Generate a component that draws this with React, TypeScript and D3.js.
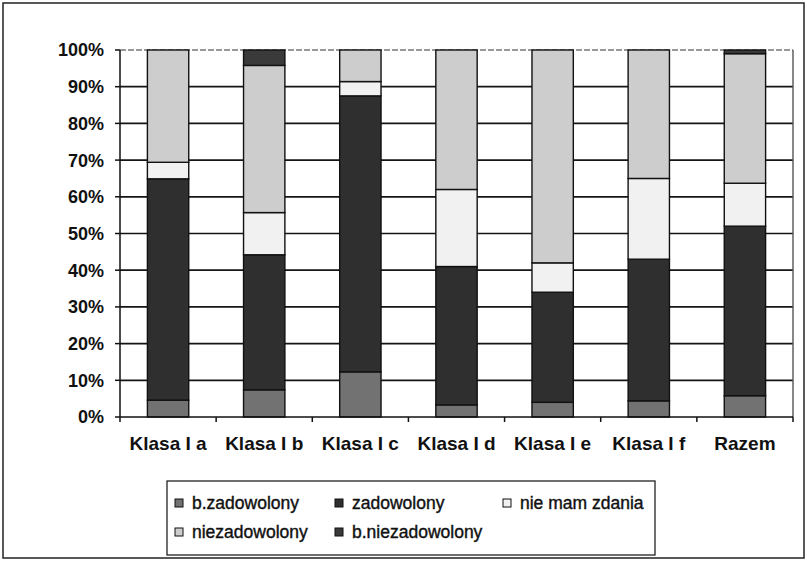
import * as d3 from 'd3';

const categories = ['Klasa I a', 'Klasa I b', 'Klasa I c', 'Klasa I d', 'Klasa I e', 'Klasa I f', 'Razem'];
const seriesNames = ['b.zadowolony', 'zadowolony', 'nie mam zdania', 'niezadowolony', 'b.niezadowolony'];
const bZadowolony = [4.6, 7.4, 12.3, 3.3, 4.0, 4.4, 5.8];
const zadowolony = [60.3, 36.8, 75.2, 37.7, 30.0, 38.6, 46.2];
const nieMamZdania = [4.5, 11.5, 3.9, 21.0, 8.0, 22.0, 11.7];
const niezadowolony = [30.6, 40.1, 8.6, 38.0, 58.0, 35.0, 35.3];
const bNiezadowolony = [0, 4.2, 0, 0, 0, 0, 1.0];
const yTicks = [0, 10, 20, 30, 40, 50, 60, 70, 80, 90, 100];

const seriesValues = [bZadowolony, zadowolony, nieMamZdania, niezadowolony, bNiezadowolony];
const colors = ['#727272', '#2f2f2f', '#f1f1f1', '#cdcdcd', '#3a3a3a'];

const W = 807;
const H = 562;
const plot = { left: 120, right: 793, top: 50, bottom: 417 };

export default function App() {
  const x = d3.scaleBand().domain(categories).range([plot.left, plot.right]).paddingInner(0.57).paddingOuter(0.285);
  const y = d3.scaleLinear().domain([0, 100]).range([plot.bottom, plot.top]);

  const rows = categories.map((c, i) => {
    const r: any = { cat: c };
    seriesNames.forEach((s, k) => (r[s] = seriesValues[k][i]));
    return r;
  });
  const stacked = d3.stack().keys(seriesNames).offset(d3.stackOffsetExpand)(rows);
  const step = (plot.right - plot.left) / categories.length;

  const legendCols = [175, 335, 503];
  const legendRows = [503, 532];

  return (
    <svg width={W} height={H} style={{ position: 'absolute', left: 0, top: 0, background: '#fff' }} fontFamily="'Liberation Sans', Arial, sans-serif">
      <rect x={3} y={3} width={W - 6} height={H - 7} fill="#fff" stroke="#222" strokeWidth={1.5} />

      {/* gridlines */}
      {yTicks.filter(t => t > 0 && t < 100).map(t => (
        <line key={t} x1={plot.left} x2={plot.right} y1={y(t)} y2={y(t)} stroke="#151515" strokeWidth={1.7} />
      ))}
      <line x1={plot.left} x2={plot.right} y1={y(100)} y2={y(100)} stroke="#777" strokeWidth={1.4} strokeDasharray="6,2" />
      <line x1={plot.right} x2={plot.right} y1={plot.top} y2={plot.bottom} stroke="#555" strokeWidth={1.4} />

      {/* bars */}
      {stacked.map((layer, k) => (
        <g key={layer.key}>
          {layer.map((d, i) => {
            const h = y(d[0] * 100) - y(d[1] * 100);
            if (h <= 0.01) return null;
            return (
              <rect key={i} x={x(categories[i])} y={y(d[1] * 100)} width={x.bandwidth()} height={h}
                fill={colors[k]} stroke="#111" strokeWidth={1.4} />
            );
          })}
        </g>
      ))}

      {/* axes */}
      <line x1={plot.left} x2={plot.left} y1={plot.top} y2={plot.bottom} stroke="#111" strokeWidth={1.5} />
      <line x1={plot.left} x2={plot.right} y1={plot.bottom} y2={plot.bottom} stroke="#111" strokeWidth={1.5} />
      {yTicks.map(t => (
        <g key={t}>
          <line x1={plot.left - 5} x2={plot.left} y1={y(t)} y2={y(t)} stroke="#111" strokeWidth={1.5} />
          <text x={104} y={y(t)} dy="0.36em" textAnchor="end" fontSize={18} fontWeight="bold" fill="#111">{t}%</text>
        </g>
      ))}
      {d3.range(categories.length + 1).map(i => (
        <line key={i} x1={plot.left + i * step} x2={plot.left + i * step} y1={plot.bottom} y2={plot.bottom + 5} stroke="#111" strokeWidth={1.5} />
      ))}
      {categories.map(c => (
        <text key={c} x={(x(c) as number) + x.bandwidth() / 2} y={450} textAnchor="middle" fontSize={19} fontWeight="bold" fill="#111">{c}</text>
      ))}

      {/* legend */}
      <rect x={167} y={481} width={488} height={74} fill="#fff" stroke="#222" strokeWidth={1.3} />
      {seriesNames.map((s, k) => {
        const lx = legendCols[k % 3];
        const ly = legendRows[Math.floor(k / 3)];
        return (
          <g key={s}>
            <rect x={lx} y={ly - 4} width={8} height={8} fill={colors[k]} stroke="#111" strokeWidth={1} />
            <text x={lx + 17} y={ly} dy="0.36em" fontSize={17.5} fill="#111" stroke="#111" strokeWidth={0.4}>{s}</text>
          </g>
        );
      })}
    </svg>
  );
}
